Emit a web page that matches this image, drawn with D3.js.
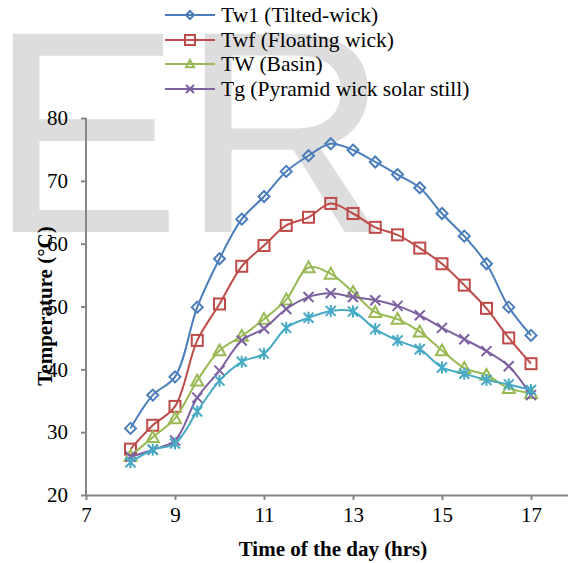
<!DOCTYPE html>
<html><head><meta charset="utf-8">
<script src="https://cdn.jsdelivr.net/npm/d3@7"></script>
<style>body{margin:0;background:#fff}svg{display:block}
.serif{font-family:"Liberation Serif","Times New Roman",Times,serif}
.sans{font-family:"Liberation Sans",Arial,Helvetica,sans-serif}
</style>
</head><body>
<svg id="c" width="568" height="563"></svg>
<script>
const hours = [8,8.5,9,9.5,10,10.5,11,11.5,12,12.5,13,13.5,14,14.5,15,15.5,16,16.5,17];
const tw1 = [30.6,35.9,38.8,49.9,57.6,63.9,67.5,71.5,74.0,75.9,74.9,73.0,71.0,68.9,64.8,61.2,56.8,49.9,45.4];
const twf = [27.3,31.1,34.1,44.6,50.4,56.4,59.7,62.9,64.2,66.4,64.8,62.6,61.4,59.3,56.8,53.4,49.7,45.0,40.9];
const twBasin = [26.2,29.2,32.2,38.2,43.0,45.3,48.0,51.1,56.2,55.2,52.3,49.1,48.0,46.0,43.0,40.2,39.1,37.0,36.2];
const tg = [26.1,27.2,28.7,35.5,39.8,44.6,46.5,49.6,51.5,52.1,51.5,51.0,50.1,48.6,46.6,44.8,42.9,40.5,35.9];
const tExtra = [25.2,27.2,28.2,33.3,38.2,41.2,42.5,46.6,48.2,49.3,49.2,46.4,44.6,43.2,40.3,39.3,38.3,37.6,36.7];
const xTicks = [7,9,11,13,15,17];
const yTicks = [20,30,40,50,60,70,80];
const seriesNames = ["Tw1 (Tilted-wick)","Twf (Floating wick)","TW (Basin)","Tg (Pyramid wick solar still)"];

const series = [
  {name: seriesNames[0], values: tw1, color: "#4a7ebb", marker: "diamond", legend: true},
  {name: seriesNames[1], values: twf, color: "#be4b48", marker: "square", legend: true},
  {name: seriesNames[2], values: twBasin, color: "#98b954", marker: "triangle", legend: true},
  {name: seriesNames[3], values: tg, color: "#7d60a0", marker: "x", legend: true},
  {name: "", values: tExtra, color: "#46aac5", marker: "star", legend: false}
];

const svg = d3.select("#c");

// watermark
svg.append("text").attr("class", "sans").attr("x", -11).attr("y", 232)
  .attr("font-size", 288).attr("fill", "#dddddd").text("ER");

const x = d3.scaleLinear().domain([7, 7 + (568 - 86) / 44.5]).range([86, 568]);
const y = d3.scaleLinear().domain([20, 80]).range([495, 118]);

const axisColor = "#868686";
const gx = svg.append("g").attr("transform", "translate(0,495)")
  .call(d3.axisBottom(x).tickValues(xTicks).tickSize(5).tickSizeOuter(0).tickPadding(7));
const gy = svg.append("g").attr("transform", "translate(86,0)")
  .call(d3.axisLeft(y).tickValues(yTicks).tickSize(5).tickSizeOuter(0).tickPadding(13));
[gx, gy].forEach(g => {
  g.attr("font-family", null);
  g.select(".domain").attr("stroke", axisColor).attr("stroke-width", 2);
  g.selectAll(".tick line").attr("stroke", axisColor).attr("stroke-width", 2);
  g.selectAll(".tick text").attr("class", "serif").attr("font-size", 21).attr("fill", "#000");
});
gy.select(".domain").attr("d", "M0," + y(20) + "V" + y(80));

svg.append("text").attr("class", "serif").attr("x", 333).attr("y", 556).attr("text-anchor", "middle")
  .attr("font-size", 21).attr("font-weight", "bold").text("Time of the day (hrs)");
svg.append("text").attr("class", "serif").attr("transform", "translate(52,306) rotate(-90)").attr("text-anchor", "middle")
  .attr("font-size", 21).attr("font-weight", "bold").text("Temperature (°C)");

function drawMarker(g, type, cx, cy, color, s) {
  let el;
  if (type === "diamond") {
    el = g.append("path").attr("d", `M${cx},${cy-s}L${cx+s},${cy}L${cx},${cy+s}L${cx-s},${cy}Z`);
  } else if (type === "square") {
    el = g.append("rect").attr("x", cx-s).attr("y", cy-s).attr("width", 2*s).attr("height", 2*s);
  } else if (type === "triangle") {
    el = g.append("path").attr("d", `M${cx},${cy-s}L${cx+s},${cy+s*0.8}L${cx-s},${cy+s*0.8}Z`);
  } else if (type === "x") {
    el = g.append("path").attr("d", `M${cx-s},${cy-s}L${cx+s},${cy+s}M${cx-s},${cy+s}L${cx+s},${cy-s}`);
  } else {
    el = g.append("path").attr("d", `M${cx-s},${cy-s}L${cx+s},${cy+s}M${cx-s},${cy+s}L${cx+s},${cy-s}M${cx},${cy-s*1.2}L${cx},${cy+s*1.2}`);
  }
  el.attr("stroke", color).attr("stroke-width", 2).attr("fill", "none");
}

const line = d3.line().x((d,i) => x(hours[i])).y(d => y(d)).curve(d3.curveCatmullRom.alpha(0.5));
const sizes = {diamond: 5.5, square: 5.5, triangle: 6, x: 5, star: 5};
series.forEach(s => {
  const g = svg.append("g");
  g.append("path").attr("d", line(s.values)).attr("fill", "none").attr("stroke", s.color).attr("stroke-width", 2);
  s.values.forEach((v,i) => drawMarker(g, s.marker, x(hours[i]), y(v), s.color, sizes[s.marker]));
});

// legend
const legRows = [15, 40, 64, 89];
series.filter(s => s.legend).forEach((s, i) => {
  const g = svg.append("g");
  const ly = legRows[i];
  g.append("line").attr("x1", 165).attr("x2", 215).attr("y1", ly).attr("y2", ly).attr("stroke", s.color).attr("stroke-width", 2);
  drawMarker(g, s.marker, 190, ly, s.color, s.marker === "square" ? 5 : 4);
  g.append("text").attr("class", "serif").attr("x", 221).attr("y", ly + 7).attr("font-size", 21.5).text(s.name);
});
</script>
</body></html>
